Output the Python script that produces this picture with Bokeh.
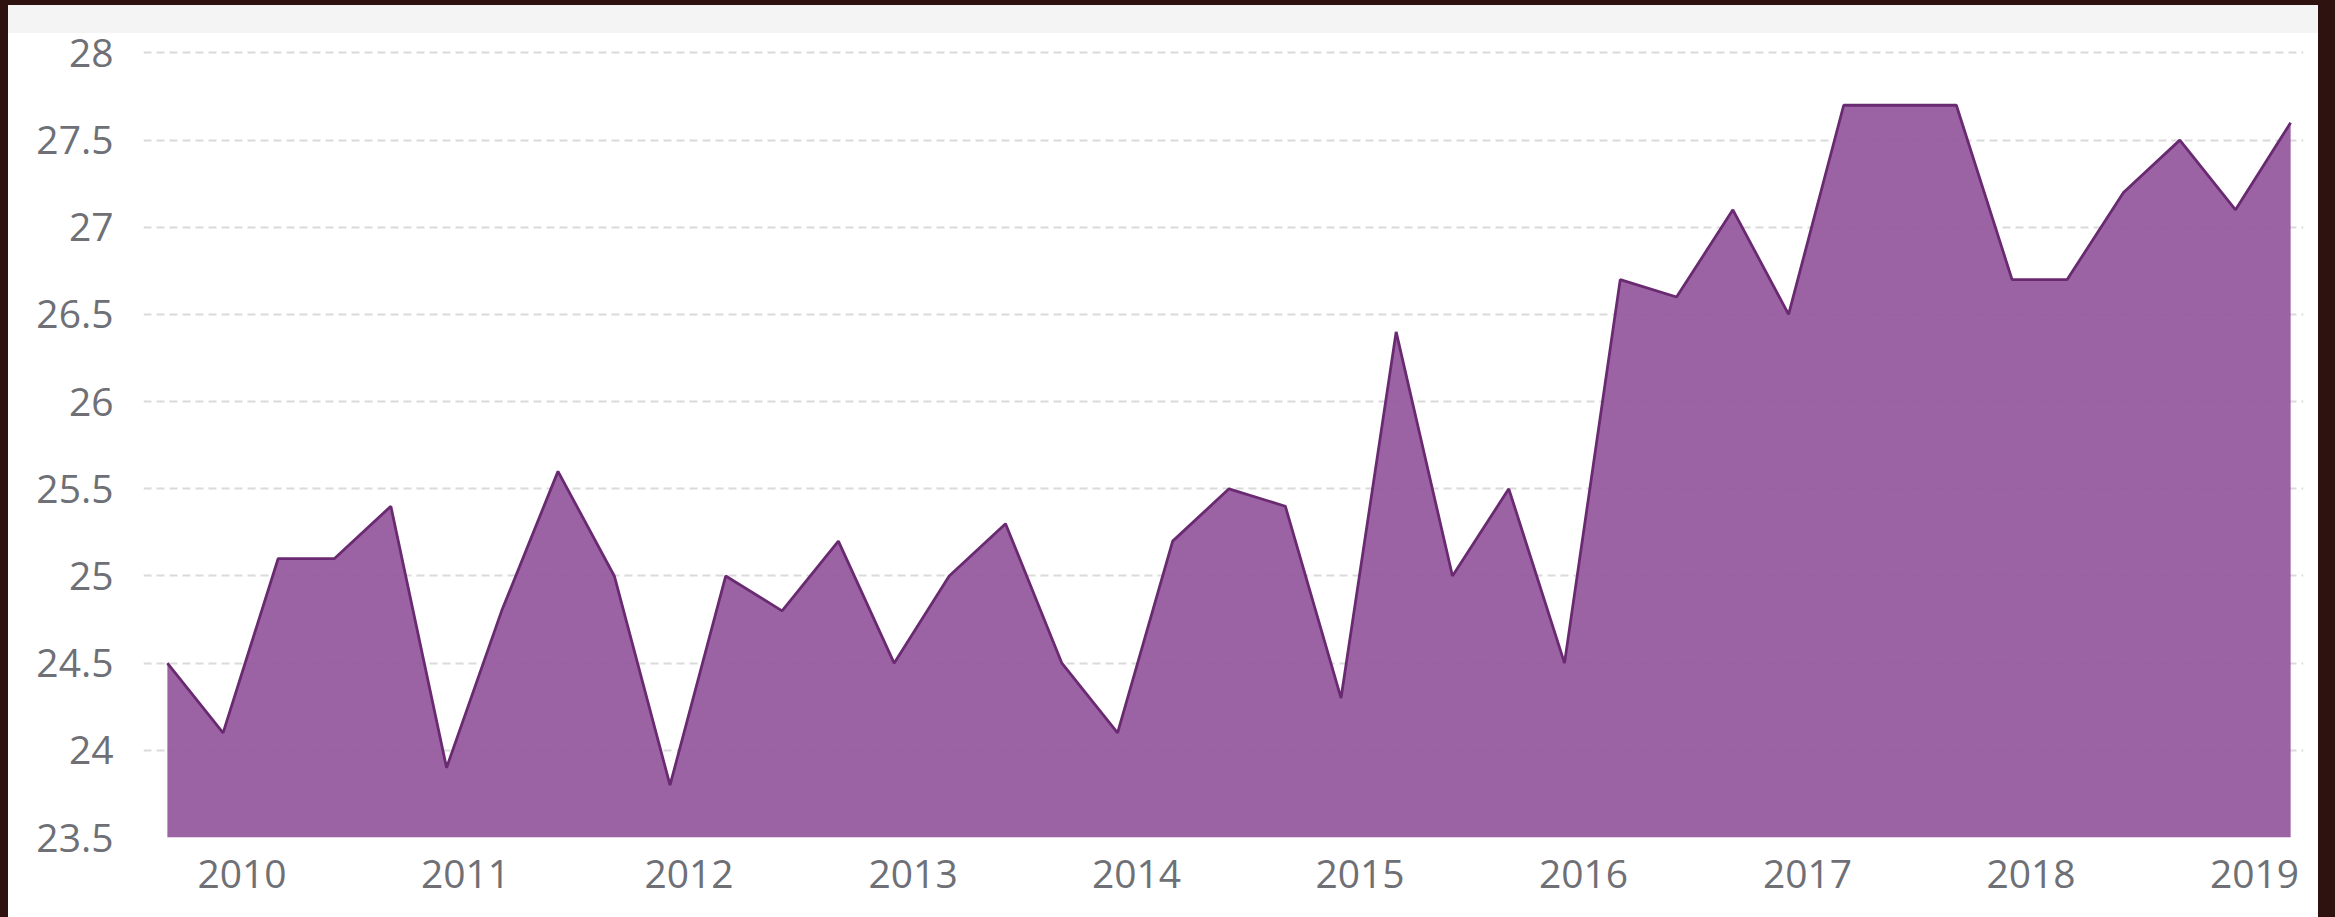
import pandas as pd
from bokeh.plotting import figure
from bokeh.models import Range1d, FixedTicker, DatetimeTickFormatter, GlobalInlineStyleSheet, ColumnDataSource
from bokeh.embed import file_html
from bokeh.resources import INLINE

# ---- data (quarterly observations) ----
dates = ["2009-09-01", "2009-12-01", "2010-03-01", "2010-06-01", "2010-09-01", "2010-12-01",
         "2011-03-01", "2011-06-01", "2011-09-01", "2011-12-01", "2012-03-01", "2012-06-01",
         "2012-09-01", "2012-12-01", "2013-03-01", "2013-06-01", "2013-09-01", "2013-12-01",
         "2014-03-01", "2014-06-01", "2014-09-01", "2014-12-01", "2015-03-01", "2015-06-01",
         "2015-09-01", "2015-12-01", "2016-03-01", "2016-06-01", "2016-09-01", "2016-12-01",
         "2017-03-01", "2017-06-01", "2017-09-01", "2017-12-01", "2018-03-01", "2018-06-01",
         "2018-09-01", "2018-12-01", "2019-03-01"]
values = [24.5, 24.1, 25.1, 25.1, 25.4, 23.9,
          24.8, 25.6, 25.0, 23.8, 25.0, 24.8,
          25.2, 24.5, 25.0, 25.3, 24.5, 24.1,
          25.2, 25.5, 25.4, 24.3, 26.4, 25.0,
          25.5, 24.5, 26.7, 26.6, 27.1, 26.5,
          27.7, 27.7, 27.7, 26.7, 26.7, 27.2,
          27.5, 27.1, 27.6]
year_ticks = ["2010-01-01", "2011-01-01", "2012-01-01", "2013-01-01", "2014-01-01",
              "2015-01-01", "2016-01-01", "2017-01-01", "2018-01-01", "2019-01-01"]
y_ticks = [23.5, 24, 24.5, 25, 25.5, 26, 26.5, 27, 27.5, 28]
y_labels = ["23.5", "24", "24.5", "25", "25.5", "26", "26.5", "27", "27.5", "28"]

Y_MIN = 23.5
Y_MAX = 28.1

df = pd.DataFrame({"x": pd.to_datetime(dates), "y": values})
df["base"] = Y_MIN
src = ColumnDataSource(df)

to_ms = lambda s: pd.Timestamp(s).value // 10**6

W, H = 2310, 912
p = figure(width=W, height=H, x_axis_type="datetime",
           output_backend="svg", toolbar_location=None,
           x_range=Range1d(to_ms("2009-07-24"), to_ms("2019-03-22")),
           y_range=Range1d(Y_MIN, Y_MAX),
           min_border_left=135, min_border_right=15, min_border_top=30, min_border_bottom=80,
           styles={"background": "linear-gradient(to bottom, #f4f4f4 0px, #f4f4f4 28px, #ffffff 28px, #ffffff 100%)"})
p.background_fill_color = "white"
p.border_fill_color = None
p.outline_line_color = None

p.varea(x="x", y1="base", y2="y", source=src, fill_color="#975b9f", fill_alpha=0.95)
p.line(x="x", y="y", source=src, line_color="#6a2a72", line_width=2.8)

label_color = "#6e7076"
font = "Open Sans"

# x axis
p.xaxis.ticker = FixedTicker(ticks=[to_ms(t) for t in year_ticks])
p.xaxis.formatter = DatetimeTickFormatter(years="%Y", months="%Y", days="%Y", hours="%Y",
                                          minutes="%Y", seconds="%Y", milliseconds="%Y",
                                          microseconds="%Y", minsec="%Y", hourmin="%Y")
p.xaxis.axis_line_color = None
p.xaxis.major_tick_line_color = None
p.xaxis.minor_tick_line_color = None
p.xaxis.major_label_text_font = font
p.xaxis.major_label_text_font_size = "39px"
p.xaxis.major_label_text_color = label_color
p.xaxis.major_label_standoff = 16

# y axis
p.yaxis.ticker = FixedTicker(ticks=y_ticks)
p.yaxis.major_label_overrides = {t: l for t, l in zip(y_ticks, y_labels)}
p.yaxis.axis_line_color = None
p.yaxis.major_tick_line_color = None
p.yaxis.minor_tick_line_color = None
p.yaxis.major_label_text_font = font
p.yaxis.major_label_text_font_size = "39px"
p.yaxis.major_label_text_color = label_color
p.yaxis.major_label_standoff = 24

p.xgrid.grid_line_color = None
p.ygrid.grid_line_color = "#dadada"
p.ygrid.grid_line_width = 2
p.ygrid.grid_line_dash = "8 5"

p.stylesheets = [GlobalInlineStyleSheet(css="html,body{background:#2e120f;} body{margin:5px 0 0 8px;}")]

open("out.html", "w").write(file_html(p, INLINE))
